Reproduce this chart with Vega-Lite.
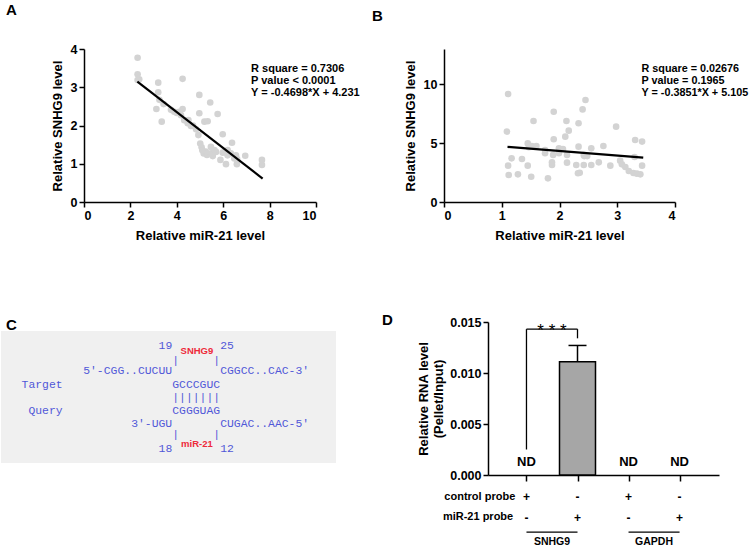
{
  "$schema": "https://vega.github.io/schema/vega-lite/v6.json",
  "background": "white",
  "padding": {"left": 0, "top": 3, "right": 0, "bottom": 0},
  "config": {
    "view": {"stroke": null},
    "font": "Liberation Sans",
    "axis": {"domainColor": "black", "domainWidth": 1.5, "tickColor": "black", "tickWidth": 1.5, "tickSize": 5, "labelFont": "Liberation Sans", "labelFontWeight": "bold", "labelFontSize": 12.5, "labelColor": "black", "titleFont": "Liberation Sans", "titleFontWeight": "bold", "titleFontSize": 13, "titleColor": "black", "grid": false, "labelPadding": 2, "labelOverlap": false},
    "title": {"font": "Liberation Sans", "fontSize": 15, "fontWeight": "bold", "anchor": "start", "frame": "group", "color": "black", "baseline": "alphabetic"}
  },
  "spacing": 69,
  "vconcat": [
    {
      "spacing": 12,
      "hconcat": [
        {
          "width": 232, "height": 153,
          "title": {"text": "A", "dx": -78, "offset": 25},
          "layer": [
            {
              "data": {"values": [
                {"x": 2.31, "y": 3.77}, {"x": 2.31, "y": 3.34}, {"x": 2.38, "y": 3.21}, {"x": 2.31, "y": 3.19}, {"x": 3.2, "y": 3.12}, {"x": 4.25, "y": 3.22}, {"x": 3.2, "y": 2.87}, {"x": 3.25, "y": 2.67}, {"x": 3.43, "y": 2.56}, {"x": 3.12, "y": 2.43}, {"x": 3.35, "y": 2.1}, {"x": 3.75, "y": 2.41}, {"x": 3.89, "y": 2.36}, {"x": 4.11, "y": 2.36}, {"x": 4.25, "y": 2.43}, {"x": 4.18, "y": 2.27}, {"x": 4.32, "y": 2.14}, {"x": 4.47, "y": 2.06}, {"x": 4.61, "y": 1.99}, {"x": 4.97, "y": 2.8}, {"x": 4.97, "y": 2.32}, {"x": 5.44, "y": 2.6}, {"x": 5.76, "y": 2.3}, {"x": 5.19, "y": 2.1}, {"x": 5.33, "y": 2.11}, {"x": 4.83, "y": 1.9}, {"x": 4.93, "y": 1.75}, {"x": 5.01, "y": 1.53}, {"x": 5.07, "y": 1.43}, {"x": 5.16, "y": 1.27}, {"x": 5.3, "y": 1.23}, {"x": 5.47, "y": 1.27}, {"x": 5.69, "y": 1.31}, {"x": 5.98, "y": 1.77}, {"x": 5.98, "y": 1.29}, {"x": 5.88, "y": 1.1}, {"x": 6.12, "y": 0.99}, {"x": 6.19, "y": 1.22}, {"x": 6.38, "y": 1.55}, {"x": 6.48, "y": 1.14}, {"x": 6.59, "y": 0.99}, {"x": 6.55, "y": 1.22}, {"x": 6.95, "y": 1.21}, {"x": 7.67, "y": 1.1}, {"x": 7.67, "y": 0.97}, {"x": 5.47, "y": 1.44}, {"x": 5.62, "y": 1.36}, {"x": 6.19, "y": 1.36}, {"x": 6.33, "y": 1.27}, {"x": 4.5, "y": 2.14}, {"x": 4.0, "y": 2.33}, {"x": 4.7, "y": 2.0}, {"x": 5.25, "y": 1.32}, {"x": 5.55, "y": 1.2}, {"x": 6.05, "y": 1.3}, {"x": 6.6, "y": 1.12}, {"x": 5.1, "y": 1.35}
              ]},
              "mark": {"type": "circle", "size": 44, "color": "#d3d3d3", "opacity": 1},
              "encoding": {
                "x": {"field": "x", "type": "quantitative", "scale": {"domain": [0, 10], "nice": false}, "axis": {"values": [0, 2, 4, 6, 8, 10], "format": "d", "labelOverlap": false, "title": "Relative miR-21 level", "titlePadding": 8}},
                "y": {"field": "y", "type": "quantitative", "scale": {"domain": [0, 4], "nice": false}, "axis": {"values": [0, 1, 2, 3, 4], "format": "d", "labelOverlap": false, "tickCount": 5, "title": "Relative SNHG9 level", "titlePadding": 6}}
              }
            },
            {
              "data": {"values": [{"x": 2.3, "y": 3.15}, {"x": 7.7, "y": 0.614}]},
              "mark": {"type": "line", "color": "black", "strokeWidth": 2.2},
              "encoding": {"x": {"field": "x", "type": "quantitative"}, "y": {"field": "y", "type": "quantitative"}}
            },
            {
              "data": {"values": [{}]},
              "mark": {"type": "text", "align": "left", "baseline": "top", "fontWeight": "bold", "fontSize": 11, "lineHeight": 12, "color": "black", "text": ["R square = 0.7306", "P value < 0.0001", "Y = -0.4698*X + 4.231"]},
              "encoding": {"x": {"datum": 7.2}, "y": {"datum": 3.63}}
            }
          ]
        },
        {
          "width": 231, "height": 153,
          "title": {"text": "B", "dx": -72, "offset": 25},
          "layer": [
            {
              "data": {"values": [
                {"x": 1.11, "y": 9.18}, {"x": 1.09, "y": 5.98}, {"x": 1.17, "y": 3.71}, {"x": 1.11, "y": 3.09}, {"x": 1.12, "y": 2.29}, {"x": 1.28, "y": 2.35}, {"x": 1.35, "y": 3.65}, {"x": 1.45, "y": 3.09}, {"x": 1.51, "y": 2.15}, {"x": 1.55, "y": 6.88}, {"x": 1.45, "y": 4.98}, {"x": 1.52, "y": 4.76}, {"x": 1.6, "y": 4.76}, {"x": 1.47, "y": 4.65}, {"x": 1.75, "y": 4.14}, {"x": 1.8, "y": 2.01}, {"x": 1.89, "y": 4.0}, {"x": 1.87, "y": 3.14}, {"x": 1.87, "y": 3.37}, {"x": 1.9, "y": 7.67}, {"x": 1.9, "y": 5.33}, {"x": 1.99, "y": 4.56}, {"x": 2.06, "y": 4.5}, {"x": 2.1, "y": 5.55}, {"x": 2.16, "y": 6.06}, {"x": 2.12, "y": 6.88}, {"x": 2.13, "y": 4.0}, {"x": 2.13, "y": 3.34}, {"x": 2.29, "y": 3.14}, {"x": 2.32, "y": 2.44}, {"x": 2.35, "y": 2.49}, {"x": 2.33, "y": 6.69}, {"x": 2.33, "y": 4.7}, {"x": 2.4, "y": 7.87}, {"x": 2.45, "y": 8.67}, {"x": 2.42, "y": 4.0}, {"x": 2.42, "y": 3.14}, {"x": 2.43, "y": 3.9}, {"x": 2.55, "y": 4.56}, {"x": 2.55, "y": 3.14}, {"x": 2.68, "y": 3.37}, {"x": 2.76, "y": 4.76}, {"x": 2.88, "y": 3.09}, {"x": 2.98, "y": 6.4}, {"x": 3.05, "y": 3.51}, {"x": 3.08, "y": 3.2}, {"x": 3.14, "y": 2.97}, {"x": 3.2, "y": 2.63}, {"x": 3.28, "y": 2.46}, {"x": 3.31, "y": 5.27}, {"x": 3.43, "y": 5.13}, {"x": 3.3, "y": 3.82}, {"x": 3.34, "y": 2.41}, {"x": 3.4, "y": 2.35}, {"x": 3.43, "y": 3.09}, {"x": 1.75, "y": 4.42}, {"x": 1.99, "y": 4.14}, {"x": 2.48, "y": 3.9}
              ]},
              "mark": {"type": "circle", "size": 44, "color": "#d3d3d3", "opacity": 1},
              "encoding": {
                "x": {"field": "x", "type": "quantitative", "scale": {"domain": [0, 4], "nice": false}, "axis": {"values": [0, 1, 2, 3, 4], "format": "d", "labelOverlap": false, "title": "Relative miR-21 level", "titlePadding": 8}},
                "y": {"field": "y", "type": "quantitative", "scale": {"domain": [0, 13], "nice": false}, "axis": {"values": [0, 5, 10], "format": "d", "labelOverlap": false, "title": "Relative SNHG9 level", "titlePadding": 6}}
              }
            },
            {
              "data": {"values": [{"x": 1.1, "y": 4.68}, {"x": 3.45, "y": 3.776}]},
              "mark": {"type": "line", "color": "black", "strokeWidth": 2.2},
              "encoding": {"x": {"field": "x", "type": "quantitative"}, "y": {"field": "y", "type": "quantitative"}}
            },
            {
              "data": {"values": [{}]},
              "mark": {"type": "text", "align": "left", "baseline": "top", "fontWeight": "bold", "fontSize": 10.8, "lineHeight": 12, "color": "black", "text": ["R square = 0.02676", "P value = 0.1965", "Y = -0.3851*X + 5.105"]},
              "encoding": {"x": {"datum": 3.42}, "y": {"datum": 11.81}}
            }
          ]
        }
      ]
    },
    {
      "spacing": 46,
      "hconcat": [
        {
          "width": 252, "height": 153,
          "title": {"text": "C", "dx": -78, "offset": -10.5},
          "layer": [
            {
              "data": {"values": [{"x0": 0, "x1": 48.905, "y0": -1.154, "y1": 9.0}]},
              "mark": {"type": "rect", "color": "#f0f0f0"},
              "encoding": {
                "x": {"field": "x0", "type": "quantitative", "scale": {"domain": [12.117, 48.905], "nice": false, "zero": false}, "axis": null},
                "x2": {"field": "x1"},
                "y": {"field": "y0", "type": "quantitative", "scale": {"domain": [-1.846, 9.923], "reverse": true, "nice": false, "zero": false}, "axis": null},
                "y2": {"field": "y1"}
              }
            },
            {
              "data": {"values": [
                {"t": "19", "col": 23, "row": 0}, {"t": "25", "col": 32, "row": 0},
                {"t": "|", "col": 25, "row": 1.15}, {"t": "|", "col": 31, "row": 1.15},
                {"t": "5'-CGG..CUCUU", "col": 12, "row": 1.92}, {"t": "CGGCC..CAC-3'", "col": 32, "row": 1.92},
                {"t": "Target", "col": 3, "row": 3}, {"t": "GCCCGUC", "col": 25, "row": 3},
                {"t": "|||||||", "col": 25, "row": 4},
                {"t": "Query", "col": 4, "row": 5}, {"t": "CGGGUAG", "col": 25, "row": 5},
                {"t": "3'-UGU", "col": 19, "row": 6}, {"t": "CUGAC..AAC-5'", "col": 32, "row": 6},
                {"t": "|", "col": 25, "row": 6.85}, {"t": "|", "col": 31, "row": 6.85},
                {"t": "18", "col": 23, "row": 7.92}, {"t": "12", "col": 32, "row": 7.92}
              ]},
              "mark": {"type": "text", "align": "left", "baseline": "middle", "font": "Liberation Mono", "fontSize": 11.4, "color": "#5058d8"},
              "encoding": {
                "x": {"field": "col", "type": "quantitative"},
                "y": {"field": "row", "type": "quantitative"},
                "text": {"field": "t"}
              }
            },
            {
              "data": {"values": [{"t": "SNHG9", "col": 28.6, "row": 0.39}, {"t": "miR-21", "col": 28.6, "row": 7.54}]},
              "mark": {"type": "text", "align": "center", "baseline": "middle", "font": "Liberation Sans", "fontWeight": "bold", "fontSize": 9.5, "color": "#ee2a3a"},
              "encoding": {
                "x": {"field": "col", "type": "quantitative"},
                "y": {"field": "row", "type": "quantitative"},
                "text": {"field": "t"}
              }
            }
          ]
        },
        {
          "width": 231, "height": 153,
          "title": {"text": "D", "dx": -106, "offset": -11.5},
          "layer": [
            {
              "data": {"values": [{"pos": 2, "value": 0.0111, "err": 0.0127}]},
              "mark": {"type": "bar", "size": 36, "fill": "#a6a6a6", "stroke": "black", "strokeWidth": 1.5},
              "encoding": {
                "x": {"field": "pos", "type": "quantitative", "scale": {"domain": [0.344, 4.675], "nice": false, "zero": false}, "axis": {"values": [1, 2, 3, 4], "labels": false, "title": null, "tickSize": 6}},
                "y": {"field": "value", "type": "quantitative", "scale": {"domain": [0, 0.015], "nice": false}, "axis": {"values": [0, 0.005, 0.01, 0.015], "format": ".3f", "labelOverlap": false, "title": ["Relative RNA level", "(Pellet/Input)"], "titlePadding": 4, "titleLineHeight": 15}}
              }
            },
            {
              "data": {"values": [{"pos": 2, "value": 0.0111, "err": 0.0127}]},
              "mark": {"type": "rule", "color": "black", "strokeWidth": 1.5},
              "encoding": {"x": {"field": "pos", "type": "quantitative"}, "y": {"field": "value", "type": "quantitative"}, "y2": {"field": "err"}}
            },
            {
              "data": {"values": [{"pos": 2, "value": 0.0111, "err": 0.0127}]},
              "mark": {"type": "tick", "orient": "horizontal", "size": 18, "thickness": 1.5, "color": "black", "opacity": 1},
              "encoding": {"x": {"field": "pos", "type": "quantitative"}, "y": {"field": "err", "type": "quantitative"}}
            },
            {
              "data": {"values": [
                {"pos": 1, "pos2": 1, "value": 0.0025, "v2": 0.0143},
                {"pos": 1, "pos2": 2, "value": 0.0143, "v2": 0.0143},
                {"pos": 2, "pos2": 2, "value": 0.0143, "v2": 0.0134}
              ]},
              "mark": {"type": "rule", "color": "black", "strokeWidth": 1.3},
              "encoding": {"x": {"field": "pos", "type": "quantitative"}, "x2": {"field": "pos2"}, "y": {"field": "value", "type": "quantitative"}, "y2": {"field": "v2"}}
            },
            {
              "data": {"values": [{}]},
              "mark": {"type": "text", "text": "* * *", "fontSize": 17, "align": "center", "baseline": "alphabetic", "color": "black"},
              "encoding": {"x": {"datum": 1.5}, "y": {"datum": 0.0136}}
            },
            {
              "data": {"values": [{"pos": 1, "t": "ND"}, {"pos": 3, "t": "ND"}, {"pos": 4, "t": "ND"}]},
              "mark": {"type": "text", "fontSize": 13, "fontWeight": "bold", "align": "center", "baseline": "middle", "color": "black"},
              "encoding": {"x": {"field": "pos", "type": "quantitative"}, "y": {"datum": 0.0013}, "text": {"field": "t"}}
            },
            {
              "data": {"values": [{"pos": 1, "c": "+", "m": "-"}, {"pos": 2, "c": "-", "m": "+"}, {"pos": 3, "c": "+", "m": "-"}, {"pos": 4, "c": "-", "m": "+"}]},
              "mark": {"type": "text", "fontSize": 12, "fontWeight": "bold", "align": "center", "baseline": "middle", "color": "black"},
              "encoding": {"x": {"field": "pos", "type": "quantitative"}, "y": {"datum": -0.00216}, "text": {"field": "c"}}
            },
            {
              "data": {"values": [{"pos": 1, "c": "+", "m": "-"}, {"pos": 2, "c": "-", "m": "+"}, {"pos": 3, "c": "+", "m": "-"}, {"pos": 4, "c": "-", "m": "+"}]},
              "mark": {"type": "text", "fontSize": 12, "fontWeight": "bold", "align": "center", "baseline": "middle", "color": "black"},
              "encoding": {"x": {"field": "pos", "type": "quantitative"}, "y": {"datum": -0.0042}, "text": {"field": "m"}}
            },
            {
              "data": {"values": [{}]},
              "mark": {"type": "text", "text": "control probe", "fontSize": 11, "fontWeight": "bold", "align": "right", "baseline": "middle", "color": "black"},
              "encoding": {"x": {"datum": 0.78}, "y": {"datum": -0.00216}}
            },
            {
              "data": {"values": [{}]},
              "mark": {"type": "text", "text": "miR-21 probe", "fontSize": 11, "fontWeight": "bold", "align": "right", "baseline": "middle", "color": "black"},
              "encoding": {"x": {"datum": 0.74}, "y": {"datum": -0.0041}}
            },
            {
              "data": {"values": [{"g": "SNHG9", "a": 1, "b": 2, "mid": 1.5}, {"g": "GAPDH", "a": 3, "b": 4, "mid": 3.5}]},
              "mark": {"type": "rule", "color": "black", "strokeWidth": 1.2},
              "encoding": {"x": {"field": "a", "type": "quantitative"}, "x2": {"field": "b"}, "y": {"datum": -0.0056}}
            },
            {
              "data": {"values": [{"g": "SNHG9", "a": 1, "b": 2, "mid": 1.5}, {"g": "GAPDH", "a": 3, "b": 4, "mid": 3.5}]},
              "mark": {"type": "text", "fontSize": 10.5, "fontWeight": "bold", "align": "center", "baseline": "middle", "color": "black"},
              "encoding": {"x": {"field": "mid", "type": "quantitative"}, "y": {"datum": -0.0066}, "text": {"field": "g"}}
            }
          ]
        }
      ]
    }
  ]
}
